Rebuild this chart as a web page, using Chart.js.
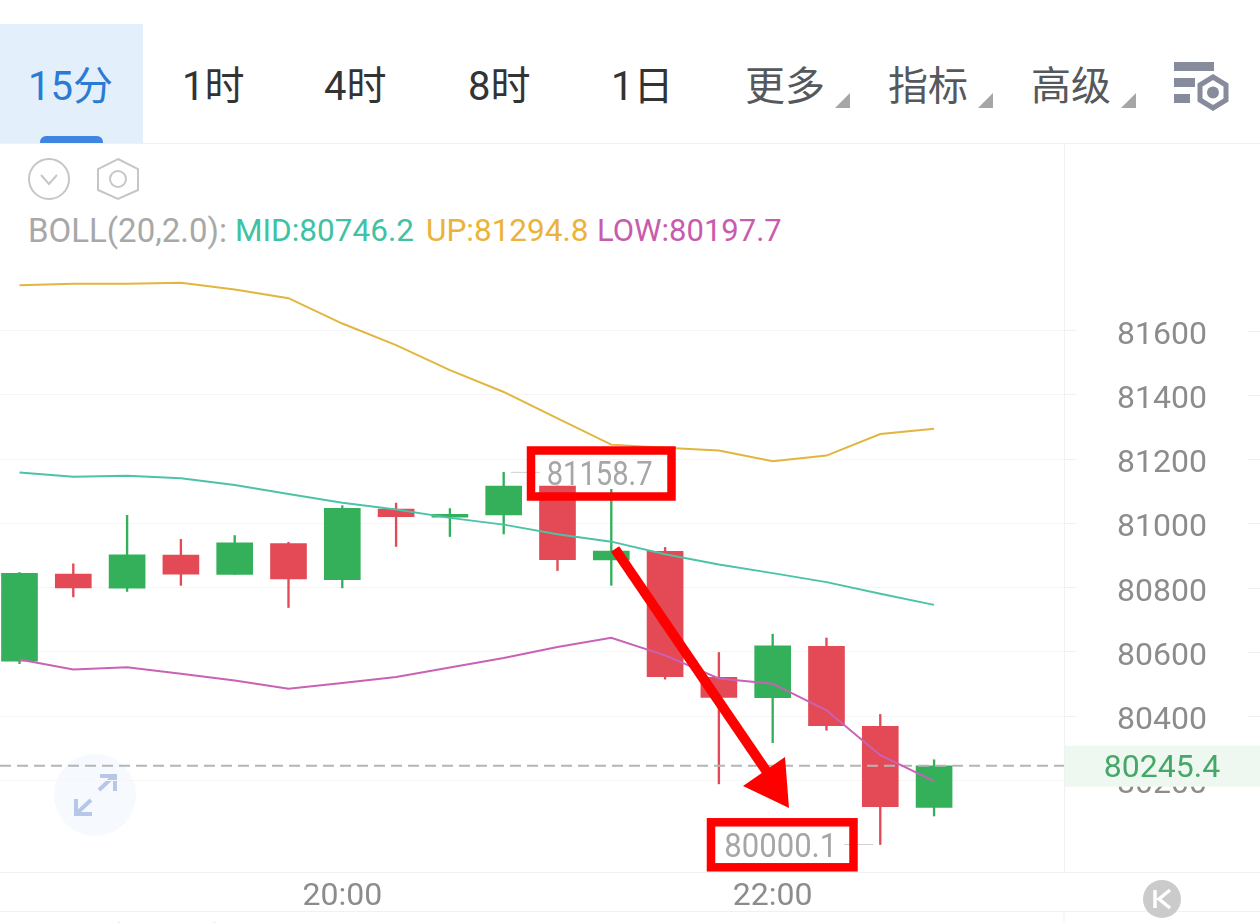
<!DOCTYPE html>
<html lang="zh">
<head>
<meta charset="utf-8">
<title>15分 K线</title>
<script src="https://cdn.jsdelivr.net/npm/chart.js@4"></script>
<style>
  html, body { margin: 0; padding: 0; background: #fff; }
  body { position: relative; width: 1260px; height: 923px; overflow: hidden;
    font-family: Roboto, "Noto Sans CJK SC", sans-serif; }
  canvas, svg.layer { position: absolute; left: 0; top: 0; }
  .tab { position: absolute; top: 61px; font-size: 40px; line-height: 52px; color: #333; white-space: nowrap; }
  .tab.gray { color: #55585c; }
  .active-bg { position: absolute; left: 0; top: 24px; width: 143px; height: 119px; background: #e4effc; }
  .active-bar { position: absolute; left: 40px; top: 136px; width: 63px; height: 7px; background: #3f86e0; border-radius: 6px 6px 0 0; }
  .legend span { position: absolute; top: 212px; font-size: 31.5px; line-height: 38px; white-space: nowrap; }
  .macd span { position: absolute; top: 917px; font-size: 31.5px; line-height: 38px; white-space: nowrap; }
  .hline { position: absolute; left: 0; width: 1260px; height: 1px; background: #f1f1f1; }
</style>
</head>
<body>
<div class="active-bg"></div>
<div class="active-bar"></div>
<div class="tab" style="left:28px;color:#2a7bd3">15分</div>
<div class="tab" style="left:182px">1时</div>
<div class="tab" style="left:324px">4时</div>
<div class="tab" style="left:468px">8时</div>
<div class="tab" style="left:611px">1日</div>
<div class="tab gray" style="left:745px">更多</div>
<div class="tab gray" style="left:888px">指标</div>
<div class="tab gray" style="left:1031px">高级</div>
<div class="hline" style="top:143px"></div>
<div class="hline" style="top:911px"></div>

<div class="legend">
  <span style="left:28px;color:#a8a8a8;font-size:33px">BOLL(20,2.0):</span>
  <span style="left:235px;color:#3fc2a4">MID:80746.2</span>
  <span style="left:426px;color:#eab33a">UP:81294.8</span>
  <span style="left:597px;color:#c95bae;font-size:31px">LOW:80197.7</span>
</div>
<div class="macd">
  <span style="left:28px;color:#a8a8a8;font-size:29px">MACD(12,26,9):</span>
  <span style="left:232px;color:#3fc2a4">DIF:-92.1</span>
  <span style="left:375px;color:#e0c83a">DEA:-97.1</span>
  <span style="left:525px;color:#c95bae">MACD:5.0</span>
</div>

<!-- icons under the chart -->
<svg class="layer" width="1260" height="923">
  <polygon points="850,93 850,108 835,108" fill="#a6a6a6"/>
  <polygon points="993,93 993,108 978,108" fill="#a6a6a6"/>
  <polygon points="1136,93 1136,108 1121,108" fill="#a6a6a6"/>
  <g fill="#868c9b">
    <rect x="1174" y="62" width="40" height="9"/>
    <rect x="1174" y="78" width="21" height="9"/>
    <rect x="1174" y="94" width="16" height="9"/>
  </g>
  <polygon points="1213,77 1226,85 1226,100 1213,108 1200,100 1200,85" fill="#fff" stroke="#868c9b" stroke-width="5"/>
  <circle cx="1213" cy="92.5" r="6" fill="#868c9b"/>
  <ellipse cx="49" cy="179" rx="20" ry="20" fill="none" stroke="#c6c6c6" stroke-width="2"/>
  <polyline points="41,175 49,184 57,175" fill="none" stroke="#c6c6c6" stroke-width="2"/>
  <polygon points="118,159 138,169 138,190 118,199 98,190 98,169" fill="none" stroke="#c6c6c6" stroke-width="2"/>
  <circle cx="118" cy="179" r="8" fill="none" stroke="#c6c6c6" stroke-width="2"/>
  <circle cx="95" cy="795" r="41" fill="#f6faff"/>
  <g fill="none" stroke="#b7c7e8" stroke-width="4">
    <path d="M99,790 L114,776 M100,776 L115,776 L115,791"/>
    <path d="M91,800 L77,813 M76,799 L76,814 L92,814"/>
  </g>
  <circle cx="1162" cy="899" r="19" fill="#cbcbcb"/>
  <path d="M1155,890 V908 M1170,890 L1159,899 L1170,908" fill="none" stroke="#fff" stroke-width="3.5"/>
  <line x1="1064" y1="912" x2="1064" y2="923" stroke="#f1f1f1"/>
</svg>

<canvas id="chart" width="1260" height="923"></canvas>

<!-- hand drawn red marks on top -->
<svg class="layer" width="1260" height="923">
  <rect x="531" y="450.5" width="140.5" height="46" fill="none" stroke="#ff0000" stroke-width="8.5"/>
  <rect x="711" y="822.3" width="142.5" height="45" fill="none" stroke="#ff0000" stroke-width="8.5"/>
  <line x1="615" y1="549" x2="767" y2="772" stroke="#ff0000" stroke-width="10"/>
  <polygon points="789,808 743,786 785,757" fill="#ff0000"/>
</svg>

<script>
// 15分 K线, 读图估算
const candleTimes = ["18:30", "18:45", "19:00", "19:15", "19:30", "19:45", "20:00", "20:15", "20:30",
  "20:45", "21:00", "21:15", "21:30", "21:45", "22:00", "22:15", "22:30", "22:45"];
const opens = [80571, 80842, 80798, 80901, 80841, 80937, 80825, 81044, 81019,
  81026, 81116, 80886, 80913, 80521, 80457, 80617, 80368, 80116];
const closes = [80844, 80799, 80902, 80842, 80939, 80827, 81047, 81021, 81028,
  81116, 80887, 80914, 80523, 80458, 80619, 80370, 80118, 80245.4];
const highs = [80847, 80874, 81025, 80950, 80962, 80941, 81055, 81063, 81046,
  81158.7, 81116, 81106, 80925, 80598, 80655, 80643, 80405, 80264];
const lows = [80563, 80771, 80788, 80807, 80841, 80738, 80799, 80928, 80959,
  80967, 80853, 80807, 80515, 80189, 80317, 80356, 80000.1, 80089];
const bollMid = [81158, 81145, 81148, 81140, 81119, 81091, 81064, 81043, 81017,
  80996, 80966, 80943, 80904, 80872, 80845, 80817, 80781, 80746.2];
const bollUp = [81741, 81746, 81746, 81749, 81728, 81701, 81622, 81555, 81477,
  81409, 81327, 81245, 81235, 81227, 81193, 81211, 81278, 81294.8];
const bollLow = [80576, 80545, 80552, 80532, 80511, 80485, 80503, 80522, 80551,
  80581, 80615, 80644, 80589, 80517, 80501, 80418, 80278, 80197.7];
const priceTicks = [81600, 81400, 81200, 81000, 80800, 80600, 80400, 80200];
const timeTicks = ["20:00", "22:00"];
const lastPrice = 80245.4;

const GREEN = "#35b05a";
const RED = "#e34a55";
const GRID = "#f6f6f6";
const LABEL = "#8c8c8c";

const X_MIN = -0.3625;
const X_MAX = 19.415;
const colors = opens.map((o, i) => (closes[i] >= o ? GREEN : RED));

// bits the axes can't do: divider, tick stubs, high/low labels, last price tag
const extras = {
  id: "extras",
  afterDraw(chart) {
    const { ctx, scales, chartArea } = chart;
    const x = scales.x;
    const y = scales.y;
    ctx.save();

    ctx.strokeStyle = "#f1f1f1";
    ctx.lineWidth = 1;
    ctx.beginPath();
    ctx.moveTo(chartArea.right + 0.5, chartArea.top);
    ctx.lineTo(chartArea.right + 0.5, chartArea.bottom);
    ctx.moveTo(0, chartArea.bottom + 0.5);
    ctx.lineTo(1260, chartArea.bottom + 0.5);
    priceTicks.forEach((t) => {
      const py = Math.round(y.getPixelForValue(t)) + 0.5;
      ctx.moveTo(1248, py);
      ctx.lineTo(1260, py);
    });
    ctx.stroke();

    // max / min marker
    const hi = Math.max(...highs);
    const lo = Math.min(...lows);
    ctx.font = "34px Roboto";
    ctx.textBaseline = "middle";
    ctx.fillStyle = "#a6a6a6";
    ctx.strokeStyle = "#cfcfcf";
    const hx = x.getPixelForValue(highs.indexOf(hi));
    const hy = y.getPixelForValue(hi);
    ctx.beginPath();
    ctx.moveTo(hx + 7, hy);
    ctx.lineTo(hx + 36, hy);
    const lx = x.getPixelForValue(lows.indexOf(lo));
    const ly = y.getPixelForValue(lo);
    ctx.moveTo(lx - 7, ly);
    ctx.lineTo(lx - 36, ly);
    ctx.stroke();
    ctx.textAlign = "left";
    ctx.fillText(hi.toFixed(1), hx + 43, hy + 4, 106);
    ctx.textAlign = "right";
    ctx.fillText(lo.toFixed(1), lx - 43, ly + 4, 113);

    // last price tag, covers the 80200 tick
    const py = y.getPixelForValue(lastPrice);
    ctx.fillStyle = "#eef8f1";
    ctx.fillRect(chartArea.right + 1, py - 20, 1260 - chartArea.right, 41);
    ctx.fillStyle = "#45a868";
    ctx.font = "32px Roboto";
    ctx.textAlign = "center";
    ctx.fillText(lastPrice.toFixed(1), 1162, py + 3);
    ctx.restore();
  }
};

const lineDataset = (label, values, color) => ({
  type: "line",
  label,
  data: values.map((v, i) => ({ x: i, y: v })),
  borderColor: color,
  borderWidth: 2,
  pointRadius: 0,
  tension: 0,
  order: 0
});

new Chart(document.getElementById("chart"), {
  type: "bar",
  data: {
    datasets: [
      lineDataset("MID", bollMid, "#4cc3a6"),
      lineDataset("UP", bollUp, "#e2b53e"),
      lineDataset("LOW", bollLow, "#c962b4"),
      {
        type: "line",
        label: "last",
        data: [{ x: X_MIN, y: lastPrice }, { x: X_MAX, y: lastPrice }],
        borderColor: "#b5b5b5",
        borderWidth: 2,
        borderDash: [11, 6],
        pointRadius: 0,
        order: 1
      },
      {
        label: "body",
        data: opens.map((o, i) => ({ x: i, y: [o, closes[i]] })),
        backgroundColor: colors,
        barThickness: 36,
        grouped: false,
        order: 2
      },
      {
        label: "wick",
        data: lows.map((l, i) => ({ x: i, y: [l, highs[i]] })),
        backgroundColor: colors,
        barThickness: 1.7,
        grouped: false,
        order: 3
      }
    ]
  },
  options: {
    responsive: false,
    animation: false,
    layout: { padding: { top: 143, bottom: 11 } },
    plugins: { legend: { display: false }, tooltip: { enabled: false } },
    scales: {
      x: {
        type: "linear",
        offset: false,
        min: X_MIN,
        max: X_MAX,
        bounds: "data",
        grid: { display: false, offset: false },
        border: { display: false },
        afterBuildTicks: (s) => {
          s.ticks = timeTicks.map((t) => ({ value: candleTimes.indexOf(t) }));
        },
        afterFit: (s) => { s.height = 40; },
        ticks: {
          autoSkip: false,
          maxRotation: 0,
          color: LABEL,
          font: { family: "Roboto", size: 32 },
          padding: -2,
          callback: (v) => candleTimes[v]
        }
      },
      y: {
        position: "right",
        min: 79914.6,
        max: 82184,
        afterBuildTicks: (s) => {
          s.ticks = priceTicks.map((v) => ({ value: v }));
        },
        afterFit: (s) => {
          s.width = 196;
          s.paddingTop = 0;
          s.paddingBottom = 0;
        },
        grid: { color: GRID, tickColor: "#f1f1f1", tickLength: 13 },
        border: { display: false },
        ticks: {
          autoSkip: false,
          color: LABEL,
          font: { family: "Roboto", size: 32 },
          crossAlign: "center",
          padding: 40,
          labelOffset: 5,
          callback: (v) => String(v)
        }
      }
    }
  },
  plugins: [extras]
});
</script>
</body>
</html>
